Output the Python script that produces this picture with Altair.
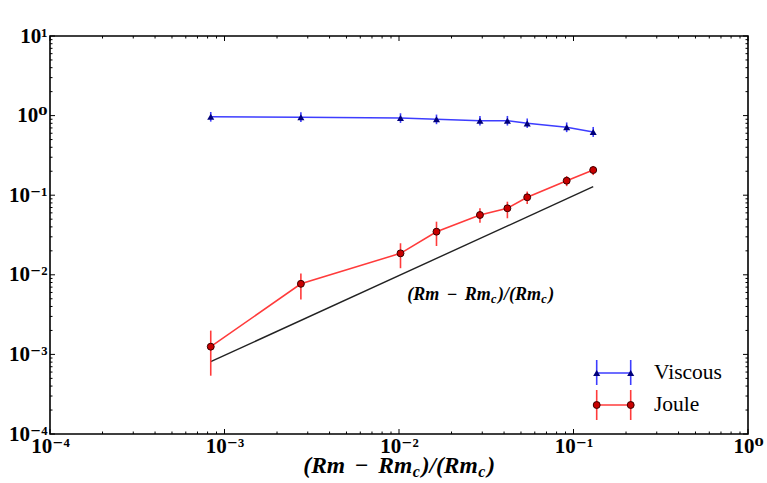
import math
import altair as alt
import pandas as pd

# ---------------- data ----------------
X = [8.34e-4, 2.74e-3, 0.0102, 0.0164, 0.0291, 0.0418, 0.0543, 0.0914, 0.1297]

VISC_Y = [0.968, 0.953, 0.933, 0.899, 0.863, 0.863, 0.800, 0.713, 0.622]
VISC_HI = [1.11, 1.10, 1.07, 1.03, 0.99, 0.99, 0.92, 0.82, 0.72]
VISC_LO = [0.84, 0.83, 0.81, 0.78, 0.75, 0.75, 0.70, 0.62, 0.54]

JOULE_Y = [1.25e-3, 7.7e-3, 0.0186, 0.0348, 0.0564, 0.0685, 0.0942, 0.152, 0.207]
JOULE_HI = [1.99e-3, 0.0104, 0.0249, 0.0465, 0.0685, 0.0829, 0.111, 0.174, 0.233]
JOULE_LO = [5.4e-4, 4.9e-3, 0.0121, 0.0230, 0.0452, 0.0513, 0.0775, 0.130, 0.179]

REF_X = [8.34e-4, 0.1297]
REF_Y = [8.1e-4, 0.128]

X_TICKS = [1e-4, 1e-3, 1e-2, 1e-1, 1.0]
X_TICK_LABELS = ["10⁻⁴", "10⁻³", "10⁻²", "10⁻¹", "10⁰"]
Y_TICKS = [1e-4, 1e-3, 1e-2, 1e-1, 1.0, 10.0]
Y_TICK_LABELS = ["10⁻⁴", "10⁻³", "10⁻²", "10⁻¹", "10⁰", "10¹"]

SERIES = ["Viscous", "Joule"]

# ---------------- layout ----------------
W, H = 698, 398
PAD_L, PAD_T = 50, 36

BLUE_LINE = "#3d3dff"
BLUE_MARK = "#00007a"
RED_LINE = "#ff3b3b"
RED_FILL = "#c80000"
RED_EDGE = "#3a0000"
SERIF = "'Liberation Serif', 'DejaVu Serif', 'Times New Roman', serif"

xs = alt.Scale(type="log", domain=[1e-4, 1], nice=False)
ys = alt.Scale(type="log", domain=[1e-4, 10], nice=False)


def lab_expr(vals, labs):
    expr = "''"
    for v, l in reversed(list(zip(vals, labs))):
        expr = f"abs(log(datum.value)/LN10 - ({math.log10(v)})) < 0.01 ? '{l}' : ({expr})"
    return expr


axis_common = dict(
    ticks=False, domain=False, grid=False, title=None,
    labelFont=SERIF, labelFontWeight="bold", labelFontSize=21,
    labelColor="black", labelFlush=False, labelOverlap=False,
)

visc = pd.DataFrame({"x": X, "y": VISC_Y, "lo": VISC_LO, "hi": VISC_HI})
joule = pd.DataFrame({"x": X, "y": JOULE_Y, "lo": JOULE_LO, "hi": JOULE_HI})
ref = pd.DataFrame({"x": REF_X, "y": REF_Y})

xenc = alt.X("x:Q", scale=xs, axis=alt.Axis(values=X_TICKS, labelExpr=lab_expr(X_TICKS, X_TICK_LABELS),
                                             labelPadding=1, labelBaseline="top", **axis_common))
yenc = alt.Y("y:Q", scale=ys, axis=alt.Axis(values=Y_TICKS, labelExpr=lab_expr(Y_TICKS, Y_TICK_LABELS),
                                             labelPadding=3, **axis_common))

layers = []

# reference slope line
layers.append(alt.Chart(ref).mark_line(color="#222222", strokeWidth=1.4).encode(x=xenc, y=yenc))

# viscous
vb = alt.Chart(visc)
layers.append(vb.mark_line(color=BLUE_LINE, strokeWidth=1.6).encode(x="x:Q", y="y:Q"))
layers.append(vb.mark_rule(color=BLUE_LINE, strokeWidth=1.6).encode(x="x:Q", y="lo:Q", y2="hi:Q"))
layers.append(vb.mark_point(shape="triangle-up", filled=True, color=BLUE_MARK, size=50, opacity=1)
              .encode(x="x:Q", y="y:Q"))

# joule
jb = alt.Chart(joule)
layers.append(jb.mark_line(color=RED_LINE, strokeWidth=1.6).encode(x="x:Q", y="y:Q"))
layers.append(jb.mark_rule(color=RED_LINE, strokeWidth=1.6).encode(x="x:Q", y="lo:Q", y2="hi:Q"))
layers.append(jb.mark_point(shape="circle", filled=True, fill=RED_FILL, stroke=RED_EDGE, strokeWidth=1,
                            size=48, opacity=1).encode(x="x:Q", y="y:Q"))

# inside ticks (matplotlib style) on all four sides
x_major = pd.DataFrame({"x": X_TICKS})
y_major = pd.DataFrame({"y": Y_TICKS})
x_minor = pd.DataFrame({"x": [m * 10.0 ** k for k in range(-4, 0) for m in range(2, 10)]})
y_minor = pd.DataFrame({"y": [m * 10.0 ** k for k in range(-4, 1) for m in range(2, 10)]})
for df, ln in ((x_major, 5), (x_minor, 2.5)):
    c = alt.Chart(df).mark_rule(color="black", strokeWidth=1)
    layers.append(c.encode(x="x:Q", y=alt.value(H), y2=alt.value(H - ln)))
    layers.append(c.encode(x="x:Q", y=alt.value(0), y2=alt.value(ln)))
for df, ln in ((y_major, 5), (y_minor, 2.5)):
    c = alt.Chart(df).mark_rule(color="black", strokeWidth=1)
    layers.append(c.encode(y="y:Q", x=alt.value(0), x2=alt.value(ln)))
    layers.append(c.encode(y="y:Q", x=alt.value(W), x2=alt.value(W - ln)))

# ---- math-style text: (Rm − Rm_c)/(Rm_c), laid out piece by piece ----
one = pd.DataFrame({"a": [0]})
# approximate advance widths (em)
ADV = {"(": 0.333, ")": 0.333, "/": 0.278, "R": 0.667, "m": 0.778, "c": 0.444, "−": 0.57}
SUB = 0.68
# (text, subscript?, italic?, extra space before in em)
PIECES = [("(Rm", False, True, 0.0), ("−", False, False, 0.42), ("Rm", False, True, 0.42),
          ("c", True, True, 0.02), (")/(Rm", False, True, 0.08), ("c", True, True, 0.02),
          (")", False, True, 0.08)]


def width_em(txt, sub):
    return sum(ADV[ch] for ch in txt) * (SUB if sub else 1.0)


def math_label(center_x, baseline, size):
    total = sum(width_em(t, s) + g for t, s, _, g in PIECES)
    x = center_x - total * size / 2
    out = []
    for txt, sub, ital, gap in PIECES:
        x += gap * size
        out.append(alt.Chart(one).mark_text(
            text=txt, font=SERIF, fontWeight="bold", fontStyle="italic" if ital else "normal",
            fontSize=size * (SUB if sub else 1.0), align="left", baseline="alphabetic", color="black",
        ).encode(x=alt.value(x), y=alt.value(baseline + (0.17 * size if sub else 0))))
        x += width_em(txt, sub) * size
    return out


layers += math_label(399.2 - PAD_L, 473 - PAD_T, 23.5)    # x-axis title
layers += math_label(480.8 - PAD_L, 300 - PAD_T, 18)      # annotation on the line

# ---- legend ----
LEG_Y = [373 - PAD_T, 405 - PAD_T]
LEG_BAR = [(13, 12), (15, 15)]
LX0, LX1 = 596.7 - PAD_L, 630.7 - PAD_L
styles = [
    dict(line=BLUE_LINE, mark=dict(shape="triangle-up", filled=True, color=BLUE_MARK, size=50, opacity=1)),
    dict(line=RED_LINE, mark=dict(shape="circle", filled=True, fill=RED_FILL, stroke=RED_EDGE,
                                  strokeWidth=1, size=48, opacity=1)),
]
for name, yy, (up, dn), st in zip(SERIES, LEG_Y, LEG_BAR, styles):
    d = alt.Chart(pd.DataFrame({"label": [name]}))
    layers.append(d.mark_rule(color=st["line"], strokeWidth=1.6)
                  .encode(x=alt.value(LX0), x2=alt.value(LX1), y=alt.value(yy)))
    for xx in (LX0, LX1):
        layers.append(d.mark_rule(color=st["line"], strokeWidth=1.6)
                      .encode(x=alt.value(xx), y=alt.value(yy - up), y2=alt.value(yy + dn)))
        layers.append(d.mark_point(**st["mark"]).encode(x=alt.value(xx), y=alt.value(yy)))
    layers.append(d.mark_text(font=SERIF, fontSize=21.5, align="left", baseline="middle", color="black")
                  .encode(x=alt.value(654 - PAD_L), y=alt.value(yy), text="label:N"))

chart = (
    alt.layer(*layers)
    .properties(width=W, height=H, autosize=alt.AutoSizeParams(type="none"),
                padding={"left": PAD_L, "top": PAD_T, "right": 767 - PAD_L - W, "bottom": 483 - PAD_T - H},
                background="white")
    .configure_view(stroke="black", strokeWidth=1.6)
)

chart.save("out.html", embed_options={"renderer": "svg", "actions": False})
